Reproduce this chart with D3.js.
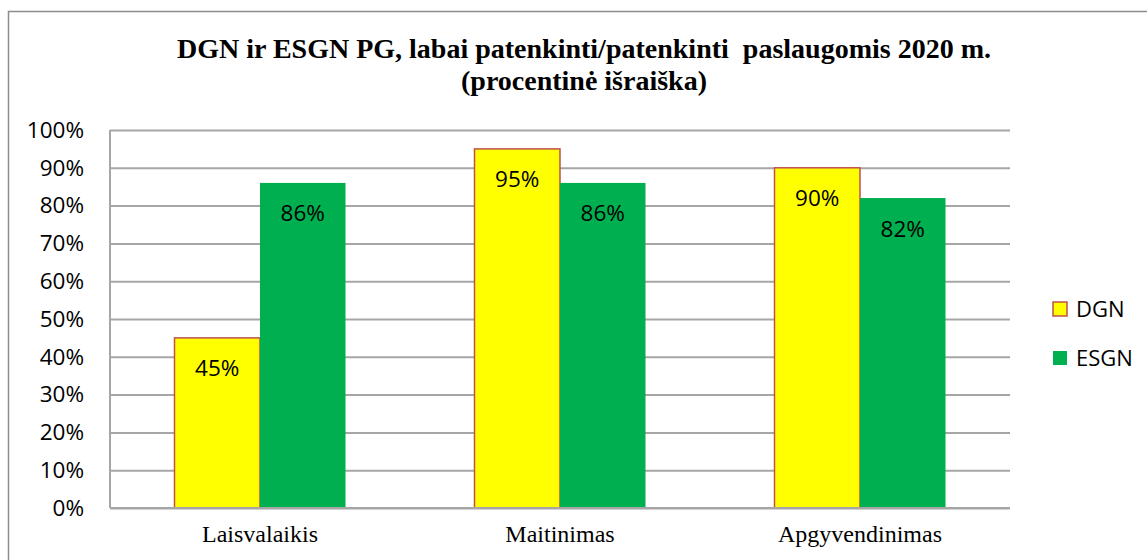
<!DOCTYPE html>
<html>
<head>
<meta charset="utf-8">
<script src="https://cdn.jsdelivr.net/npm/d3@7"></script>
<style>
  body { margin: 0; background: #fff; }
  svg { display: block; }
</style>
</head>
<body>
<svg id="chart" width="1147" height="560"></svg>
<script>
  // data
  var categories = ['Laisvalaikis', 'Maitinimas', 'Apgyvendinimas'];
  var seriesNames = ['DGN', 'ESGN'];
  var dgnValues = [45, 95, 90];
  var esgnValues = [86, 86, 82];
  var yTicks = [0, 10, 20, 30, 40, 50, 60, 70, 80, 90, 100];
  var titleLines = ['DGN ir ESGN PG, labai patenkinti/patenkinti  paslaugomis 2020 m.', '(procentinė išraiška)'];

  (function () {
    var svg = d3.select('#chart');
    var plotLeft = 110, plotRight = 1010, plotTop = 130, plotBottom = 508;

    var fills = { DGN: '#ffff00', ESGN: '#00b050' };
    var strokes = { DGN: '#c0504d', ESGN: 'none' };
    var sans = '"Open Sans", "Noto Sans", sans-serif';
    var serif = '"Liberation Serif", "Times New Roman", serif';

    // outer frame
    svg.append('rect')
       .attr('x', 8.5).attr('y', 11.5)
       .attr('width', 1200).attr('height', 600)
       .attr('fill', 'none').attr('stroke', '#8c8c8c').attr('stroke-width', 1.5);

    svg.selectAll('text.title')
       .data(titleLines)
       .enter().append('text')
       .attr('class', 'title')
       .attr('x', 584)
       .attr('y', function (d, i) { return 58 + i * 32; })
       .attr('text-anchor', 'middle')
       .style('font-family', serif)
       .style('font-weight', 'bold')
       .style('font-size', '28px')
       .style('white-space', 'pre')
       .text(function (d) { return d; });

    var x0 = d3.scaleBand().domain(categories).range([plotLeft, plotRight]);
    var x1 = d3.scaleBand().domain(seriesNames).range([0, 171]);
    var y = d3.scaleLinear().domain([0, 100]).range([plotBottom, plotTop]);

    // gridlines
    svg.append('g')
       .attr('transform', 'translate(' + plotLeft + ',0)')
       .call(d3.axisLeft(y).tickValues(yTicks).tickSize(-(plotRight - plotLeft)).tickFormat(''))
       .call(function (g) {
         g.select('.domain').remove();
         g.selectAll('line').attr('stroke', '#a6a6a6').attr('stroke-width', 2);
       });

    // tick labels
    svg.append('g')
       .attr('transform', 'translate(' + plotLeft + ',0)')
       .call(d3.axisLeft(y).tickValues(yTicks).tickSize(0).tickPadding(26)
         .tickFormat(function (d) { return d + '%'; }))
       .call(function (g) {
         g.select('.domain').remove();
         g.selectAll('text')
          .attr('fill', '#000')
          .style('font-family', sans)
          .style('font-size', '22.5px');
       });

    var rows = categories.map(function (c, i) {
      return { cat: c, values: [
        { key: 'DGN', value: dgnValues[i] },
        { key: 'ESGN', value: esgnValues[i] }
      ] };
    });

    var groups = svg.selectAll('g.grp')
       .data(rows)
       .enter().append('g')
       .attr('class', 'grp')
       .attr('transform', function (d) {
         return 'translate(' + (x0(d.cat) + x0.bandwidth() / 2 - 85.5) + ',0)';
       });

    groups.selectAll('rect')
       .data(function (d) { return d.values; })
       .enter().append('rect')
       .attr('x', function (d) { return x1(d.key); })
       .attr('y', function (d) { return y(d.value); })
       .attr('width', x1.bandwidth())
       .attr('height', function (d) { return y(0) - y(d.value); })
       .attr('fill', function (d) { return fills[d.key]; })
       .attr('stroke', function (d) { return strokes[d.key]; })
       .attr('stroke-width', 1.5);

    groups.selectAll('text.val')
       .data(function (d) { return d.values; })
       .enter().append('text')
       .attr('class', 'val')
       .attr('x', function (d) { return x1(d.key) + x1.bandwidth() / 2; })
       .attr('y', function (d) { return y(d.value) + 38.5; })
       .attr('text-anchor', 'middle')
       .style('font-family', sans)
       .style('font-size', '22.5px')
       .text(function (d) { return d.value + '%'; });

    // axis lines
    svg.append('line')
       .attr('x1', plotLeft).attr('x2', plotLeft).attr('y1', plotTop).attr('y2', plotBottom)
       .attr('stroke', '#a6a6a6').attr('stroke-width', 2);
    svg.append('line')
       .attr('x1', plotLeft).attr('x2', plotRight).attr('y1', plotBottom).attr('y2', plotBottom)
       .attr('stroke', '#a6a6a6').attr('stroke-width', 2);

    // category labels
    svg.append('g')
       .attr('transform', 'translate(0,' + plotBottom + ')')
       .call(d3.axisBottom(x0).tickSize(0).tickPadding(17))
       .call(function (g) {
         g.select('.domain').remove();
         g.selectAll('text')
          .attr('fill', '#000')
          .style('font-family', serif)
          .style('font-size', '24px');
       });

    // legend
    var legend = svg.selectAll('g.leg')
       .data(seriesNames)
       .enter().append('g')
       .attr('class', 'leg')
       .attr('transform', function (d, i) { return 'translate(1053,' + (302 + i * 49) + ')'; });

    legend.append('rect')
       .attr('width', 14).attr('height', 14)
       .attr('fill', function (d) { return fills[d]; })
       .attr('stroke', function (d) { return strokes[d]; })
       .attr('stroke-width', 1.5);

    legend.append('text')
       .attr('x', 23).attr('y', 15)
       .style('font-family', sans)
       .style('font-size', '22px')
       .text(function (d) { return d; });
  })();
</script>
</body>
</html>
